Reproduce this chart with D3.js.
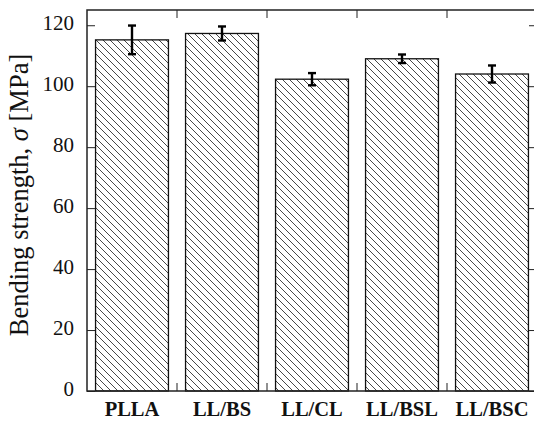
<!DOCTYPE html>
<html>
<head>
<meta charset="utf-8">
<script src="https://cdn.jsdelivr.net/npm/d3@7"></script>
<style>
  body { margin: 0; background: #fff; }
  text { font-family: "Liberation Serif", "Times New Roman", serif; fill: #111; }
</style>
</head>
<body>
<div id="chart"></div>
<script>
// Data
var samples = ["PLLA", "LL/BS", "LL/CL", "LL/BSL", "LL/BSC"];
var strength = [115.2, 117.3, 102.3, 109.0, 104.0]; // mean bending strength, MPa
var strengthErr = [4.7, 2.3, 2.0, 1.4, 2.8];        // +/- error
var yTicks = [0, 20, 40, 60, 80, 100, 120];

function init() {
    var w = 534, h = 421;
    // plot frame (right edge runs just past the picture)
    var pLeft = 87, pRight = 537, pTop = 10, pBottom = 391;

    var svg = d3.select("#chart").append("svg")
        .attr("width", w)
        .attr("height", h)
        .style("display", "block");

    // hatch pattern (\\\)
    var defs = svg.append("defs");
    defs.append("pattern")
        .attr("id", "hatch")
        .attr("patternUnits", "userSpaceOnUse")
        .attr("width", 7)
        .attr("height", 7)
      .append("path")
        .attr("d", "M-1,-1 L8,8 M-1,6 L1,8 M6,-1 L8,1")
        .attr("stroke", "#333")
        .attr("stroke-width", 0.9);

    var pad = 0.19;
    var x = d3.scaleBand()
        .domain(samples)
        .range([pLeft, pRight])
        .paddingInner(pad)
        .paddingOuter(pad / 2);

    var y = d3.scaleLinear()
        .domain([0, 125])
        .range([pBottom, pTop]);

    // bars
    svg.selectAll("rect.bar")
        .data(samples)
        .enter()
        .append("rect")
        .attr("class", "bar")
        .attr("x", function(d) { return x(d); })
        .attr("y", function(d, i) { return y(strength[i]); })
        .attr("width", x.bandwidth())
        .attr("height", function(d, i) { return y(0) - y(strength[i]); })
        .attr("fill", "url(#hatch)")
        .attr("stroke", "#111")
        .attr("stroke-width", 1.3);

    // error bars
    var eb = svg.selectAll("g.err")
        .data(samples)
        .enter()
        .append("g")
        .attr("class", "err")
        .attr("stroke", "#000")
        .attr("stroke-width", 2.4);
    eb.append("line")
        .attr("x1", function(d) { return x(d) + x.bandwidth() / 2; })
        .attr("x2", function(d) { return x(d) + x.bandwidth() / 2; })
        .attr("y1", function(d, i) { return y(strength[i] + strengthErr[i]); })
        .attr("y2", function(d, i) { return y(strength[i] - strengthErr[i]); });
    [1, -1].forEach(function(s) {
        eb.append("line")
            .attr("x1", function(d) { return x(d) + x.bandwidth() / 2 - 4; })
            .attr("x2", function(d) { return x(d) + x.bandwidth() / 2 + 4; })
            .attr("y1", function(d, i) { return y(strength[i] + s * strengthErr[i]); })
            .attr("y2", function(d, i) { return y(strength[i] + s * strengthErr[i]); });
    });

    // left axis, ticks inward
    var yAxis = svg.append("g")
        .attr("transform", "translate(" + pLeft + ",0)")
        .call(d3.axisLeft(y).tickValues(yTicks).tickSize(-8).tickPadding(13));
    yAxis.select(".domain").remove();
    yAxis.selectAll("line").attr("stroke", "#222");
    yAxis.selectAll("text")
        .attr("x", -13)
        .attr("dy", "0.2em")
        .style("font-size", "21px");

    // right axis, no labels
    var yAxisR = svg.append("g")
        .attr("transform", "translate(" + pRight + ",0)")
        .call(d3.axisRight(y).tickValues(yTicks).tickSize(-8).tickFormat(""));
    yAxisR.select(".domain").remove();
    yAxisR.selectAll("line").attr("stroke", "#222");

    // bottom labels
    var xAxis = svg.append("g")
        .attr("transform", "translate(0," + pBottom + ")")
        .call(d3.axisBottom(x).tickSize(0).tickPadding(10));
    xAxis.select(".domain").remove();
    xAxis.selectAll("text")
        .style("font-size", "20.5px")
        .style("font-weight", "bold");

    // boundary ticks top and bottom
    var bounds = samples.slice(1).map(function(d) { return x(d) - x.step() * pad / 2; });
    svg.selectAll("line.btick")
        .data(bounds)
        .enter()
        .append("line")
        .attr("x1", function(d) { return d; })
        .attr("x2", function(d) { return d; })
        .attr("y1", pBottom)
        .attr("y2", pBottom - 8)
        .attr("stroke", "#222");
    svg.selectAll("line.ttick")
        .data(bounds)
        .enter()
        .append("line")
        .attr("x1", function(d) { return d; })
        .attr("x2", function(d) { return d; })
        .attr("y1", pTop)
        .attr("y2", pTop + 8)
        .attr("stroke", "#222");

    // frame
    svg.append("rect")
        .attr("x", pLeft)
        .attr("y", pTop)
        .attr("width", pRight - pLeft)
        .attr("height", pBottom - pTop)
        .attr("fill", "none")
        .attr("stroke", "#222")
        .attr("stroke-width", 1.5);

    // y label
    var lab = svg.append("text")
        .attr("transform", "translate(28,195) rotate(-90)")
        .attr("text-anchor", "middle")
        .style("font-size", "26.5px");
    lab.append("tspan").text("Bending strength, ");
    lab.append("tspan").style("font-style", "italic").text("σ");
    lab.append("tspan").text(" [MPa]");
}

window.onload = init;
</script>
</body>
</html>
